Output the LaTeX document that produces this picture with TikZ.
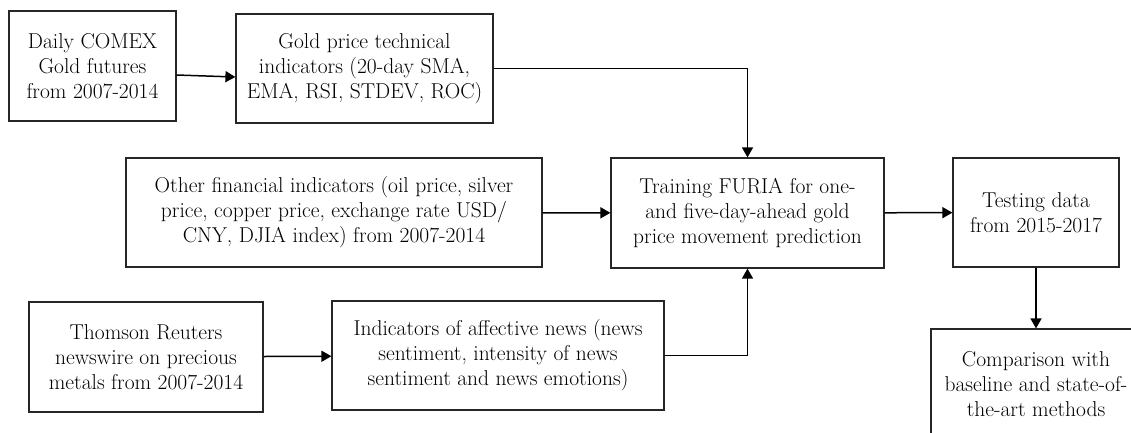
\documentclass[tikz,border=0pt]{standalone}
\usetikzlibrary{arrows.meta}
\begin{document}
\begin{tikzpicture}[x=1pt,y=-1pt,
  box/.style={draw=black!85,line width=1.2pt,inner sep=0pt,align=center,
    font=\fontsize{21.5}{25}\selectfont},
  conn/.style={line width=1.5pt,-{Triangle[length=10pt,width=11pt]}}]
\useasboundingbox (0,0) rectangle (1131,432);
\begin{scope}
\clip (0,0) rectangle (1131,432);
\node[box,minimum width=167pt,minimum height=110pt] (daily) at (92.5,66)
  {Daily COMEX\\Gold futures\\from 2007-2014};
\node[box,minimum width=257pt,minimum height=109pt] (tech) at (364.5,68.5)
  {Gold price technical\\indicators (20-day SMA,\\EMA, RSI, STDEV, ROC)};
\node[box,minimum width=416pt,minimum height=109pt] (other) at (334,212.5)
  {Other financial indicators (oil price, silver\\price, copper price, exchange rate USD/\\CNY, DJIA index) from 2007-2014};
\node[box,minimum width=273pt,minimum height=110pt] (train) at (747.5,213)
  {Training FURIA for one-\\and five-day-ahead gold\\price movement prediction};
\node[box,minimum width=166pt,minimum height=109pt] (test) at (1036,212.5)
  {Testing data\\from 2015-2017};
\node[box,minimum width=234pt,minimum height=110pt] (thom) at (146,357)
  {Thomson Reuters\\newswire on precious\\metals from 2007-2014};
\node[box,minimum width=332pt,minimum height=109pt] (news) at (498,355.5)
  {Indicators of affective news (news\\sentiment, intensity of news\\sentiment and news emotions)};
\node[box,minimum width=210pt,minimum height=110pt] (comp) at (1036,384)
  {Comparison with\\baseline and state-of-\\the-art methods};
\end{scope}
\draw[conn] ([yshift=-9pt]daily.east) -- ([yshift=-8.5pt]tech.west);
\draw[conn] (tech.east) -| (train.north);
\draw[conn] (other) -- (train);
\draw[conn] (train) -- (test);
\draw[conn] (test.south) -- (test.south |- comp.north);
\draw[conn] (thom) -- (news);
\draw[conn] (news.east) -| (train.south);
\end{tikzpicture}
\end{document}
